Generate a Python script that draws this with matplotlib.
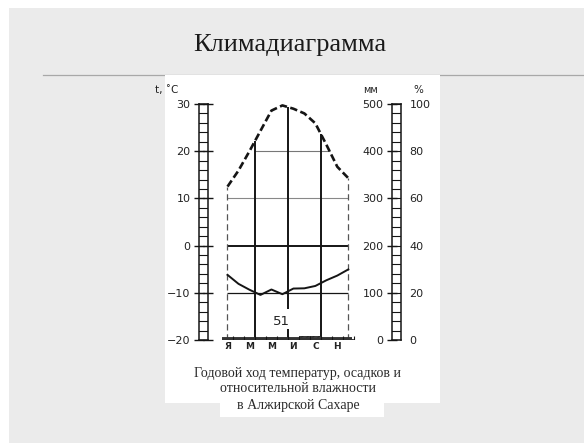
import numpy as np
import matplotlib
matplotlib.use("Agg")
import matplotlib.pyplot as plt
from matplotlib.patches import Rectangle
from matplotlib.lines import Line2D

# --- data (Algerian Sahara) ---
months = np.arange(12)
month_ticks = [0, 2, 4, 6, 8, 10]
month_labels = ["Я", "М", "М", "И", "С", "Н"]
temp_c = [12.5, 15.9, 20.0, 24.3, 28.6, 29.7, 29.0, 28.0, 25.9, 21.4, 16.7, 14.3]
humidity_pct = [27.6, 23.8, 21.3, 19.1, 21.4, 19.4, 21.8, 21.9, 22.9, 25.3, 27.3, 29.9]
precip_mm = [4, 3, 3, 3, 7, 3, 3, 8, 8, 3, 3, 3]
precip_total = 51
season_bounds = [2.5, 5.5, 8.5]

temp_ticks = [-20, -10, 0, 10, 20, 30]
mm_ticks = [0, 100, 200, 300, 400, 500]
pct_ticks = [0, 20, 40, 60, 80, 100]

W, H = 584, 443
INK = "#151515"


def box(x0, y0, x1, y1):
    """pixel box (top-left origin) -> figure fraction rect"""
    return [x0 / W, 1 - y1 / H, (x1 - x0) / W, (y1 - y0) / H]


fig = plt.figure(figsize=(W / 100, H / 100), dpi=100)
fig.patch.set_facecolor("white")

# slide background, rule and the white scan
fig.add_artist(Rectangle((9 / W, 0), 1, 1 - 8 / H, transform=fig.transFigure,
                         facecolor="#ebebeb", edgecolor="none", zorder=-10))
fig.add_artist(Line2D([43 / W, 1], [1 - 75 / H, 1 - 75 / H], transform=fig.transFigure,
                      color="#a8a8a8", lw=0.9, zorder=-9))
for x0, y0, x1, y1 in [(165, 75, 440, 403), (220, 403, 384, 417)]:
    r = box(x0, y0, x1, y1)
    fig.add_artist(Rectangle((r[0], r[1]), r[2], r[3], transform=fig.transFigure,
                             facecolor="white", edgecolor="none", zorder=-8))

fig.text(290 / W, 1 - 45 / H, "Климадиаграмма", fontsize=19,
         family="Liberation Serif", color="#1a1a1a", ha="center", va="center")

caption = ["Годовой ход температур, осадков и",
           "относительной влажности",
           "в Алжирской Сахаре"]
for i, line in enumerate(caption):
    fig.text(298 / W, 1 - (373 + 16 * i) / H, line, fontsize=10,
             family="Liberation Serif", color="#2a2a2a", ha="center", va="center")


def ladder(rect, lim, ticks, step):
    a = fig.add_axes(rect)
    a.set_ylim(*lim)
    a.set_xlim(0, 1)
    a.set_xticks([])
    a.set_facecolor("none")
    for s in a.spines.values():
        s.set_linewidth(1.1)
        s.set_color(INK)
    for v in np.arange(lim[0], lim[1] + step / 2, step):
        a.axhline(v, color=INK, lw=0.8)
    a.set_yticks(ticks)
    a.tick_params(axis="y", direction="inout", length=7, width=1.0, color=INK,
                  left=True, right=True, labelsize=8, labelcolor="#222", pad=2.5)
    return a


# left thermometer scale
ax_l = ladder(box(199, 104, 208, 340), (-20, 30), temp_ticks, 2)
ax_l.set_yticklabels([f"{t}".replace("-", "\u2212") for t in temp_ticks])

# right scale: mm on the left side, % on the right side
ax_r = ladder(box(392, 104, 401, 340), (0, 500), mm_ticks, 20)
ax_r2 = ax_r.twinx()
ax_r2.set_ylim(0, 100)
ax_r2.set_yticks(pct_ticks)
ax_r2.tick_params(axis="y", length=0, labelsize=8, labelcolor="#222", pad=6)
for s in ax_r2.spines.values():
    s.set_visible(False)

fig.text(155 / W, 1 - 90 / H, "t, ˚C", fontsize=7.5, color="#222", va="center")
fig.text(371 / W, 1 - 90 / H, "мм", fontsize=7, color="#222", va="center", ha="center")
fig.text(418 / W, 1 - 90 / H, "%", fontsize=7.5, color="#222", va="center", ha="center")

# main diagram area
ax = fig.add_axes(box(215, 104, 360, 340))
ax.set_xlim((215 - 227.5) / 10.98, (360 - 227.5) / 10.98)
ax.set_ylim(-20, 30)
ax.set_facecolor("none")
for s in ax.spines.values():
    s.set_visible(False)
ax.set_yticks([])
ax.set_xticks(month_ticks)
ax.set_xticklabels(month_labels, fontsize=6.5, fontweight="bold", color="#222")
ax.tick_params(axis="x", length=0, pad=1.5)

temp = np.array(temp_c)
x0, x1 = months[0], months[-1]

# grid lines of the diagram
peak = int(np.argmax(temp))
x20_right = np.interp(20, temp[peak:][::-1], months[peak:][::-1])
ax.hlines(20, season_bounds[0], x20_right, color="#777", lw=0.8)
ax.hlines(10, x0, x1, color="#888", lw=0.8)
ax.hlines(0, x0, x1, color=INK, lw=1.4)
ax.hlines(-10, x0, x1, color=INK, lw=0.9)

# season boundaries up to the temperature curve
tops = np.interp(season_bounds, months, temp)
ax.vlines([season_bounds[0], season_bounds[2]], -20, [tops[0], tops[2]], color=INK, lw=1.4)
ax.vlines(season_bounds[1], -13.4, tops[1], color=INK, lw=1.4)
ax.vlines(season_bounds[1], -20, -17.6, color=INK, lw=1.4)
# dashed ends of the diagram
ax.vlines([x0, x1], -20, [temp[0], temp[-1]], color="#555", lw=0.9,
          linestyles=(0, (5, 3)))

ax.plot(months, temp, color=INK, lw=1.9, dashes=(2.8, 1.3), solid_capstyle="butt")
ax.text(4.9, -16, str(precip_total), fontsize=9.5, color="#222", ha="center", va="center")

# relative humidity on % scale
ax_h = ax.twinx()
ax_h.set_ylim(0, 100)
ax_h.set_axis_off()
ax_h.plot(months, humidity_pct, color=INK, lw=1.4)

# precipitation on mm scale
ax_p = ax.twinx()
ax_p.set_ylim(0, 500)
ax_p.set_axis_off()
ax_p.hlines(2, months[0] - 0.5, months[-1] + 0.3, color="#333", lw=2.8)
ax_p.bar(months, precip_mm, width=0.95, bottom=0, color="white", edgecolor=INK,
         hatch="//////", lw=0.6)
ax_p.vlines(months + 0.5, 0, 9, color=INK, lw=0.8)

fig.savefig("out.png", dpi=100)
